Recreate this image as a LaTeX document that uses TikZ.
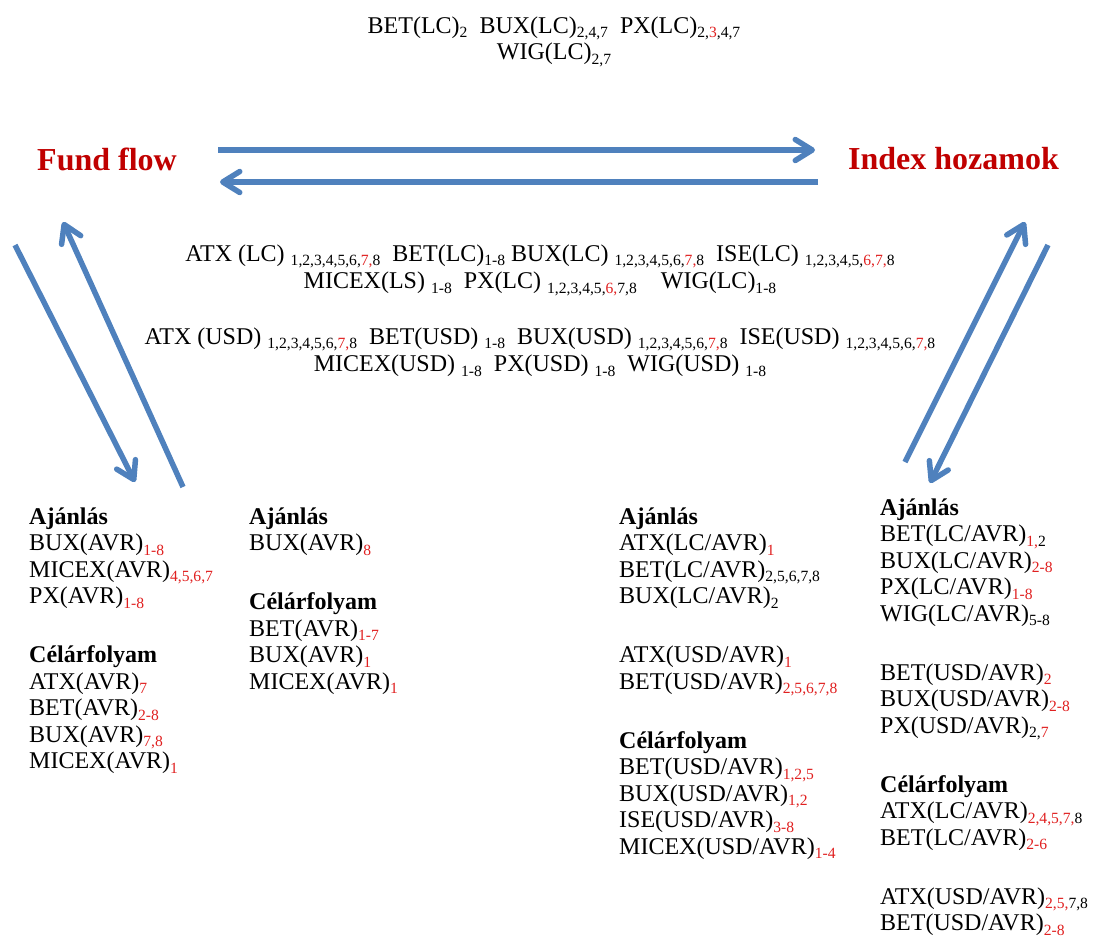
\documentclass[tikz,border=0pt]{standalone}
\usepackage{fontspec}
\setmainfont{Liberation Serif}
\usetikzlibrary{arrows.meta}
\definecolor{arrowblue}{HTML}{4F81BD}
\definecolor{titlered}{HTML}{C00000}
\definecolor{subred}{HTML}{E02020}
\setlength{\lineskiplimit}{-20pt}
\newcommand\sbs[1]{\raisebox{-4.5pt}{\fontsize{15.6}{15.6}\selectfont #1}}
\newcommand\rsb[1]{\textcolor{subred}{#1}}
\newcommand\fstrut{\rule{0pt}{20pt}}
\tikzset{
  txt/.style={inner sep=0pt, font=\fontsize{24}{26.5}\selectfont},
  colblock/.style={txt, anchor=north west, align=left},
  midblock/.style={txt, anchor=north, align=center},
  title/.style={inner sep=0pt, anchor=west, font=\fontsize{32}{38}\selectfont\bfseries, text=titlered},
  flow/.style={draw=arrowblue, line width=5.5pt, -{Straight Barb[length=17pt,width=21pt,round]}}
}
\begin{document}
\begin{tikzpicture}[x=1pt,y=-1pt]
\useasboundingbox (0,0) rectangle (1098,938);

% titles
\node[title] (ff) at (37,159) {Fund flow};
\node[title] (ih) at (848,159) {Index hozamok};

% top block
\node[midblock] (top) at (554,13) {\fstrut BET(LC)\sbs{2}~~BUX(LC)\sbs{2,4,7}~~PX(LC)\sbs{2,\rsb{3},4,7}\\
WIG(LC)\sbs{2,7}};

% middle blocks
\node[midblock] (mid1) at (540,241) {\fstrut ATX (LC) \sbs{1,2,3,4,5,6,\rsb{7,}8}~~BET(LC)\sbs{1-8}~BUX(LC) \sbs{1,2,3,4,5,6,\rsb{7,}8}~~ISE(LC) \sbs{1,2,3,4,5,\rsb{6,7,}8}\\[1pt]
MICEX(LS) \sbs{1-8}~~PX(LC) \sbs{1,2,3,4,5,\rsb{6,}7,8}~~~~WIG(LC)\sbs{1-8}};

\node[midblock] (mid2) at (540,324) {\fstrut ATX (USD) \sbs{1,2,3,4,5,6,\rsb{7,}8}~~BET(USD) \sbs{1-8}~~BUX(USD) \sbs{1,2,3,4,5,6,\rsb{7,}8}~~ISE(USD) \sbs{1,2,3,4,5,6,\rsb{7,}8}\\[1pt]
MICEX(USD) \sbs{1-8}~~PX(USD) \sbs{1-8}~~WIG(USD) \sbs{1-8}};

% columns
\node[colblock] (c1) at (29,504) {\fstrut\textbf{Ajánlás}\\
BUX(AVR)\sbs{\rsb{1-8}}\\
MICEX(AVR)\sbs{\rsb{4,5,6,7}}\\
PX(AVR)\sbs{\rsb{1-8}}\\[32.5pt]
\textbf{Célárfolyam}\\
ATX(AVR)\sbs{\rsb{7}}\\
BET(AVR)\sbs{\rsb{2-8}}\\
BUX(AVR)\sbs{\rsb{7,8}}\\
MICEX(AVR)\sbs{\rsb{1}}};

\node[colblock] (c2) at (249,504) {\fstrut\textbf{Ajánlás}\\
BUX(AVR)\sbs{\rsb{8}}\\[32.5pt]
\textbf{Célárfolyam}\\
BET(AVR)\sbs{\rsb{1-7}}\\
BUX(AVR)\sbs{\rsb{1}}\\
MICEX(AVR)\sbs{\rsb{1}}};

\node[colblock] (c3) at (619,504) {\fstrut\textbf{Ajánlás}\\
ATX(LC/AVR)\sbs{\rsb{1}}\\
BET(LC/AVR)\sbs{2,5,6,7,8}\\
BUX(LC/AVR)\sbs{2}\\[32.5pt]
ATX(USD/AVR)\sbs{\rsb{1}}\\
BET(USD/AVR)\sbs{\rsb{2,5,6,7,8}}\\[32.5pt]
\textbf{Célárfolyam}\\
BET(USD/AVR)\sbs{\rsb{1,2,5}}\\
BUX(USD/AVR)\sbs{\rsb{1,2}}\\
ISE(USD/AVR)\sbs{\rsb{3-8}}\\
MICEX(USD/AVR)\sbs{\rsb{1-4}}};

\node[colblock] (c4) at (880,495) {\fstrut\textbf{Ajánlás}\\
BET(LC/AVR)\sbs{\rsb{1,}2}\\
BUX(LC/AVR)\sbs{\rsb{2-8}}\\
PX(LC/AVR)\sbs{\rsb{1-8}}\\
WIG(LC/AVR)\sbs{5-8}\\[32.5pt]
BET(USD/AVR)\sbs{\rsb{2}}\\
BUX(USD/AVR)\sbs{\rsb{2-8}}\\
PX(USD/AVR)\sbs{2,\rsb{7}}\\[32.5pt]
\textbf{Célárfolyam}\\
ATX(LC/AVR)\sbs{\rsb{2,4,5,7,}8}\\
BET(LC/AVR)\sbs{\rsb{2-6}}\\[32.5pt]
ATX(USD/AVR)\sbs{\rsb{2,5,}7,8}\\
BET(USD/AVR)\sbs{\rsb{2-8}}};

% arrow end points
\coordinate (h1s) at (218,150);
\coordinate (h1e) at (815,150);
\coordinate (h2s) at (818,182);
\coordinate (h2e) at (220,182);
\coordinate (l1s) at (15,245);
\coordinate (l1e) at (135,482);
\coordinate (l2s) at (183,487);
\coordinate (l2e) at (63,222);
\coordinate (r1s) at (905,462);
\coordinate (r1e) at (1025,222);
\coordinate (r2s) at (1048,245);
\coordinate (r2e) at (930,483);

\draw[flow] (h1s) -- (h1e);
\draw[flow] (h2s) -- (h2e);
\draw[flow] (l1s) -- (l1e);
\draw[flow] (l2s) -- (l2e);
\draw[flow] (r1s) -- (r1e);
\draw[flow] (r2s) -- (r2e);
\end{tikzpicture}
\end{document}
